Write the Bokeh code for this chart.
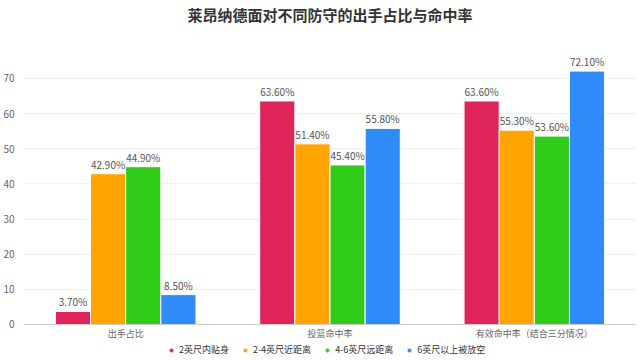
from bokeh.plotting import figure
from bokeh.models import (ColumnDataSource, LabelSet, Legend, LegendItem, FactorRange,
                          FixedTicker, Span)
from bokeh.core.properties import value
from bokeh.transform import dodge
from bokeh.embed import file_html
from bokeh.resources import INLINE

title = "莱昂纳德面对不同防守的出手占比与命中率"
categories = ["出手占比", "投篮命中率", "有效命中率（结合三分情况）"]
series_names = ["2英尺内贴身", "2-4英尺近距离", "4-6英尺远距离", "6英尺以上被放空"]
s1 = [3.7, 63.6, 63.6]
s2 = [42.9, 51.4, 55.3]
s3 = [44.9, 45.4, 53.6]
s4 = [8.5, 55.8, 72.1]
series_values = [s1, s2, s3, s4]
colors = ["#DE2459", "#FFA400", "#31CB19", "#2F8BF8"]
y_ticks = [0, 10, 20, 30, 40, 50, 60, 70]

FONT = "Noto Sans CJK SC"

# frame fills the whole canvas height; room below 0 holds category labels and legend
p = figure(x_range=FactorRange(*categories, range_padding=0), y_range=(-10.53, 92.19),
           width=640, height=361, output_backend="svg", toolbar_location=None,
           min_border_left=0, min_border_right=4, min_border_top=0, min_border_bottom=0)
p.outline_line_color = None
p.xaxis.visible = False

offsets = [-0.258, -0.086, 0.086, 0.258]
for vals, col, off in zip(series_values, colors, offsets):
    src = ColumnDataSource(dict(cat=categories, val=vals,
                                lab=[f"{v:.2f}%" for v in vals]))
    p.vbar(x=dodge("cat", off, range=p.x_range), top="val", width=0.172, source=src,
           fill_color=col, line_color="white", line_width=1)
    p.add_layout(LabelSet(x=dodge("cat", off, range=p.x_range), y="val", text="lab",
                          source=src, y_offset=2, text_align="center",
                          text_baseline="bottom", text_font=value(FONT),
                          text_font_size="10px", text_color="#555555"))

# category axis line and labels
p.add_layout(Span(location=0, dimension="width", line_color="#cccccc", line_width=1))
cat_src = ColumnDataSource(dict(cat=categories, y=[0] * len(categories)))
p.add_layout(LabelSet(x="cat", y="y", text="cat", source=cat_src, y_offset=-3,
                      text_align="center", text_baseline="top", text_font=value(FONT),
                      text_font_size="9px", text_color="#666666"))

# title
title_src = ColumnDataSource(dict(x=[categories[1]], y=[88.2], t=[title]))
p.text(x="x", y="y", text="t", source=title_src, text_align="center",
       text_baseline="middle", text_font=value(FONT), text_font_size="15px",
       text_font_style="bold", text_color="#333333")

# y axis
yax = p.yaxis[0]
yax.ticker = FixedTicker(ticks=y_ticks)
yax.axis_line_color = None
yax.major_tick_out = 0
yax.major_tick_in = 0
yax.minor_tick_out = 0
yax.minor_tick_in = 0
yax.major_tick_line_color = None
yax.minor_tick_line_color = None
yax.major_label_text_font = FONT
yax.major_label_text_font_size = "10px"
yax.major_label_text_color = "#666666"
yax.major_label_standoff = 9

p.xgrid.grid_line_color = None
p.ygrid.grid_line_color = "#eeeeee"

# legend
items = []
for name, col in zip(series_names, colors):
    dummy = p.scatter(x=[categories[0]], y=[float("nan")], marker="circle", size=7,
                      fill_color=col, line_color=col)
    items.append(LegendItem(label=name, renderers=[dummy]))
legend = Legend(items=items, orientation="horizontal", location=(144, 5),
                label_text_font=FONT, label_text_font_size="9px", label_text_color="#333333",
                glyph_width=8, glyph_height=8, label_standoff=4, spacing=12,
                label_height=9, padding=0, margin=0, border_line_color=None,
                background_fill_alpha=0)
p.add_layout(legend)

open("out.html", "w").write(file_html(p, INLINE))
